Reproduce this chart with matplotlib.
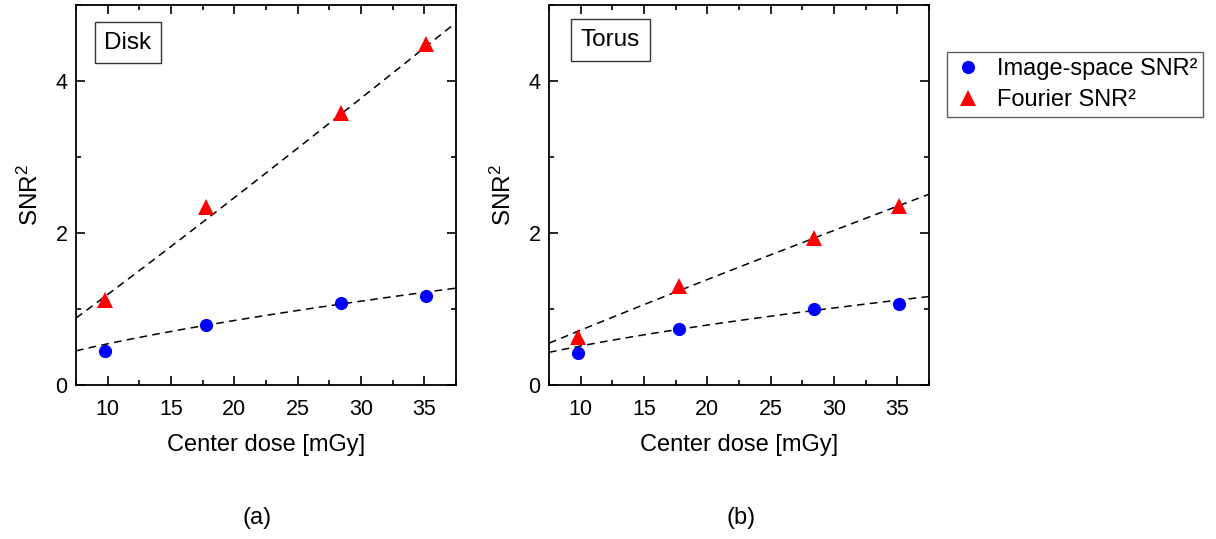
import numpy as np
import matplotlib
matplotlib.use("Agg")
import matplotlib.pyplot as plt
from matplotlib.ticker import MultipleLocator

plt.rcParams['font.family'] = ['Liberation Sans', 'DejaVu Sans']
plt.rcParams['mathtext.default'] = 'regular'

# Center dose values (mGy)
dose = [9.8, 17.8, 28.4, 35.1]

# Disk phantom
disk_image_snr2 = [0.45, 0.79, 1.08, 1.165]
disk_fourier_snr2 = [1.12, 2.34, 3.575, 4.49]

# Torus phantom
torus_image_snr2 = [0.426, 0.743, 0.998, 1.069]
torus_fourier_snr2 = [0.637, 1.297, 1.93, 2.355]

# Power-law fit coefficients (a, b) for SNR^2 = a * dose^b
disk_image_fit = (0.1222, 0.647)
disk_fourier_fit = (0.1061, 1.050)
torus_image_fit = (0.1235, 0.619)
torus_fourier_fit = (0.0823, 0.943)

panels = [
    ("Disk", disk_image_snr2, disk_fourier_snr2, disk_image_fit, disk_fourier_fit, "(a)"),
    ("Torus", torus_image_snr2, torus_fourier_snr2, torus_image_fit, torus_fourier_fit, "(b)"),
]

W, H = 1216, 539
fig = plt.figure(figsize=(W / 100, H / 100), dpi=100)

ax_lefts = [76, 549]
ax_w, ax_top, ax_bottom = 380, 5, 385
box_centers = [(0.137, 0.901), (0.161, 0.908)]
label_x = [257, 741]

xlim = (7.5, 37.5)
xfit = np.linspace(xlim[0], xlim[1], 200)

handles = None
for i, (name, img, fou, img_fit, fou_fit, tag) in enumerate(panels):
    ax = fig.add_axes([ax_lefts[i] / W, (H - ax_bottom) / H, ax_w / W, (ax_bottom - ax_top) / H])
    ax.plot(xfit, img_fit[0] * xfit ** img_fit[1], color='black', lw=1.1,
            linestyle=(0, (5, 3.5)), zorder=2)
    ax.plot(xfit, fou_fit[0] * xfit ** fou_fit[1], color='black', lw=1.1,
            linestyle=(0, (5, 3.5)), zorder=2)
    h1, = ax.plot(dose, img, 'o', color='#0000ff', markersize=9.5, markeredgewidth=0,
                  zorder=3, label='Image-space SNR²')
    h2, = ax.plot(dose, fou, '^', color='#ff0000', markersize=11, markeredgewidth=0,
                  zorder=3, label='Fourier SNR²')
    handles = [h1, h2]

    ax.set_xlim(*xlim)
    ax.set_ylim(0, 5)
    ax.xaxis.set_major_locator(MultipleLocator(5))
    ax.xaxis.set_minor_locator(MultipleLocator(2.5))
    ax.yaxis.set_major_locator(MultipleLocator(2))
    ax.yaxis.set_minor_locator(MultipleLocator(1))
    ax.tick_params(which='both', direction='in', top=True, right=True, width=1.2)
    ax.tick_params(which='major', length=6.5, labelsize=15.5)
    ax.tick_params(which='minor', length=3.5)
    ax.tick_params(axis='x', which='major', pad=10)
    ax.tick_params(axis='y', which='major', pad=6)
    for sp in ax.spines.values():
        sp.set_linewidth(1.3)

    ax.set_xlabel('Center dose [mGy]', fontsize=17, labelpad=10)
    ax.set_ylabel('SNR$^{2}$', fontsize=17.5, labelpad=9)

    ax.text(box_centers[i][0], box_centers[i][1], name, transform=ax.transAxes,
            ha='center', va='center', fontsize=17.5,
            bbox=dict(boxstyle='square,pad=0.4', facecolor='white',
                      edgecolor='#333333', linewidth=1.0))

    fig.text(label_x[i] / W, (H - 518) / H, tag, ha='center', va='center', fontsize=17)

leg = fig.legend(handles=handles, loc='upper left',
                 bbox_to_anchor=(947 / W, 1 - 52 / H), bbox_transform=fig.transFigure,
                 fontsize=17, frameon=True, fancybox=False, borderaxespad=0,
                 handletextpad=0.55, handlelength=1.3, labelspacing=0.4,
                 borderpad=0.25, numpoints=1)
leg.get_frame().set_edgecolor('#333333')
leg.get_frame().set_linewidth(1.0)

fig.savefig('out.png', dpi=100)
